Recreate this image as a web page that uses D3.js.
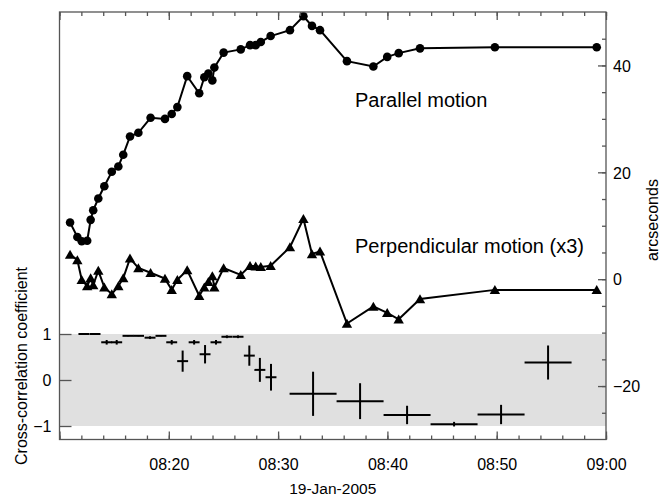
<!DOCTYPE html>
<html>
<head>
<meta charset="utf-8">
<script src="https://cdn.jsdelivr.net/npm/d3@7"></script>
<style>
  html, body { margin: 0; padding: 0; background: #fff; }
  svg { display: block; font-family: "Liberation Sans", Arial, Helvetica, sans-serif; }
</style>
</head>
<body>
<svg id="chart" width="671" height="498"></svg>
<script>
// ---- data ----
const motionTimes = ["08:10:58","08:11:38","08:12:02","08:12:32","08:12:51","08:13:05","08:13:33","08:14:06","08:14:47","08:15:23",
  "08:15:50","08:16:27","08:17:13","08:18:20","08:19:39","08:20:16","08:20:47","08:21:41","08:22:47","08:23:15",
  "08:23:37","08:23:59","08:24:10","08:25:01","08:26:35","08:27:26","08:27:57","08:28:25","08:29:19","08:31:05",
  "08:32:19","08:33:06","08:33:50","08:36:18","08:38:43","08:39:59","08:41:02","08:42:59","08:49:50","08:59:09"];
const parallelArcsec = [10.6,7.9,7.1,7.2,11.1,12.9,15.1,17.4,20.1,21.1,
  23.3,26.7,27.4,30.2,30.0,30.9,32.2,38.0,34.8,37.8,
  38.5,37.2,39.6,42.4,43.0,43.8,43.8,44.4,45.5,46.6,
  49.2,47.4,46.6,40.8,39.8,41.6,42.3,43.2,43.4,43.4];
const perpendicularX3 = [4.6,3.6,-0.1,-1.3,0.2,-1.1,1.6,-1.5,-2.8,-1.3,
  0.2,3.9,2.1,1.2,0.1,-2.0,-0.1,1.7,-3.1,-1.5,
  -0.5,0.6,-1.5,2.1,0.8,2.5,2.4,2.3,2.5,6.0,
  11.3,4.7,5.2,-8.3,-5.1,-6.3,-7.5,-3.7,-2.0,-2.0];

const ccTimes = ["08:12:14","08:13:15","08:14:19","08:15:14","08:16:16","08:17:14","08:18:17","08:19:17","08:20:16","08:21:16",
  "08:22:19","08:23:19","08:24:19","08:25:19","08:26:20","08:27:22","08:28:20","08:29:21",
  "08:33:12","08:37:30","08:41:48","08:46:06","08:50:24","08:54:42"];
const ccHalfWidthSec = [30,30,30,30,30,30,30,30,30,30,30,30,30,30,30,30,30,30,129,129,129,129,129,129];
const ccValues = [1.0,1.0,0.82,0.82,0.96,0.96,0.92,0.96,0.82,0.41,0.82,0.56,0.82,0.94,0.94,0.53,0.22,0.06,
  -0.30,-0.46,-0.76,-0.96,-0.75,0.38];
const ccErrors = [0.005,0.005,0.05,0.05,0.01,0.01,0.03,0.01,0.05,0.23,0.05,0.2,0.05,0.03,0.03,0.22,0.26,0.29,
  0.48,0.39,0.2,0.05,0.21,0.37];

const timeDomain = ["08:10:00","09:00:00"];
const timeLabelTicks = ["08:20:00","08:30:00","08:40:00","08:50:00","09:00:00"];
const arcsecDomain = [-30, 50];
const arcsecLabelTicks = [-20, 0, 20, 40];
const ccTicks = [-1, 0, 1];
const dateLabel = "19-Jan-2005";

// ---- layout ----
const L = 59.5, R = 606, T = 12, B = 439.5;
const parse = d3.timeParse("%H:%M:%S");
const svg = d3.select("#chart");

const x = d3.scaleTime().domain(timeDomain.map(parse)).range([L, R]);
const yA = d3.scaleLinear().domain(arcsecDomain).range([B, T]);
const yC = d3.scaleLinear().domain([-1, 1]).range([426, 334]);

const axisColor = "#555";

// gray band
svg.append("rect")
  .attr("x", L).attr("width", R - L)
  .attr("y", yC(1)).attr("height", yC(-1) - yC(1))
  .attr("fill", "#e0e0e0");

// cross-correlation crosses
const cc = ccTimes.map((t, i) => ({t: parse(t), hw: ccHalfWidthSec[i], v: ccValues[i], e: ccErrors[i]}));
const gcc = svg.append("g").attr("stroke", "#000").attr("stroke-width", 2);
gcc.selectAll("line.h").data(cc).join("line").attr("class", "h")
  .attr("x1", d => x(d3.timeSecond.offset(d.t, -d.hw)))
  .attr("x2", d => x(d3.timeSecond.offset(d.t, d.hw)))
  .attr("y1", d => yC(d.v)).attr("y2", d => yC(d.v));
gcc.selectAll("line.v").data(cc).join("line").attr("class", "v")
  .attr("x1", d => x(d.t)).attr("x2", d => x(d.t))
  .attr("y1", d => yC(d.v - d.e)).attr("y2", d => yC(d.v + d.e));

// motion lines
const par = motionTimes.map((t, i) => ({t: parse(t), v: parallelArcsec[i]}));
const perp = motionTimes.map((t, i) => ({t: parse(t), v: perpendicularX3[i]}));
const line = d3.line().x(d => x(d.t)).y(d => yA(d.v));

svg.append("path").datum(par).attr("d", line)
  .attr("fill", "none").attr("stroke", "#000").attr("stroke-width", 2);
svg.append("path").datum(perp).attr("d", line)
  .attr("fill", "none").attr("stroke", "#000").attr("stroke-width", 2);

svg.append("g").selectAll("circle").data(par).join("circle")
  .attr("cx", d => x(d.t)).attr("cy", d => yA(d.v)).attr("r", 4.3).attr("fill", "#000");
svg.append("g").selectAll("path").data(perp).join("path")
  .attr("d", "M0,-4.8L5.2,4.2L-5.2,4.2Z")
  .attr("transform", d => `translate(${x(d.t)},${yA(d.v)})`)
  .attr("fill", "#000");

// axes
function styleAxis(g) {
  g.select(".domain").remove();
  g.selectAll(".tick line").attr("stroke", axisColor).attr("stroke-width", 1.3);
  g.selectAll(".tick text").attr("fill", "#000");
}
const minorTimes = d3.timeMinute.every(2).range(parse("08:10:00"), parse("09:00:01"));
const majorTimes = d3.timeMinute.every(10).range(parse("08:10:00"), parse("09:00:01"));

// bottom
svg.append("g").attr("transform", `translate(0,${B})`)
  .call(d3.axisBottom(x).tickValues(minorTimes).tickSize(-4).tickFormat(""))
  .call(styleAxis);
svg.append("g").attr("transform", `translate(0,${B})`)
  .call(d3.axisBottom(x).tickValues(majorTimes).tickSize(-8).tickFormat(""))
  .call(styleAxis);
svg.append("g").attr("transform", `translate(0,${B})`)
  .call(d3.axisBottom(x).tickValues(timeLabelTicks.map(parse)).tickSize(0).tickPadding(19).tickFormat(d3.timeFormat("%H:%M")))
  .call(styleAxis)
  .selectAll("text").attr("font-size", 16);
// top
svg.append("g").attr("transform", `translate(0,${T})`)
  .call(d3.axisTop(x).tickValues(minorTimes).tickSize(-4).tickFormat(""))
  .call(styleAxis);
svg.append("g").attr("transform", `translate(0,${T})`)
  .call(d3.axisTop(x).tickValues(majorTimes).tickSize(-8).tickFormat(""))
  .call(styleAxis);
// right
const minorArc = d3.range(-25, 50, 5);
svg.append("g").attr("transform", `translate(${R},0)`)
  .call(d3.axisRight(yA).tickValues(minorArc).tickSize(-4).tickFormat(""))
  .call(styleAxis);
svg.append("g").attr("transform", `translate(${R},0)`)
  .call(d3.axisRight(yA).tickValues(arcsecLabelTicks).tickSize(-8).tickPadding(7).tickFormat(d3.format("d")))
  .call(styleAxis)
  .selectAll("text").attr("font-size", 16).attr("dy", "0.36em");
// left
svg.append("g").attr("transform", `translate(${L},0)`)
  .call(d3.axisLeft(yC).tickValues(ccTicks).tickSize(-12).tickPadding(8).tickFormat(d3.format("d")))
  .call(styleAxis)
  .selectAll("text").attr("font-size", 16).attr("dy", "0.36em");

// frame
svg.append("rect").attr("x", L).attr("y", T).attr("width", R - L).attr("height", B - T)
  .attr("fill", "none").attr("stroke", axisColor).attr("stroke-width", 1.3);

// texts
svg.append("text").attr("x", 355).attr("y", 107).attr("font-size", 20).text("Parallel motion");
svg.append("text").attr("x", 355).attr("y", 253).attr("font-size", 20).text("Perpendicular motion (x3)");
svg.append("text").attr("x", (L + R) / 2).attr("y", 494).attr("text-anchor", "middle").attr("font-size", 15.5).text(dateLabel);
svg.append("text").attr("transform", "translate(658,220) rotate(-90)").attr("text-anchor", "middle").attr("font-size", 16).text("arcseconds");
svg.append("text").attr("transform", "translate(27,465) rotate(-90)").attr("text-anchor", "start").attr("font-size", 16).text("Cross-correlation coefficient");
</script>
</body>
</html>
